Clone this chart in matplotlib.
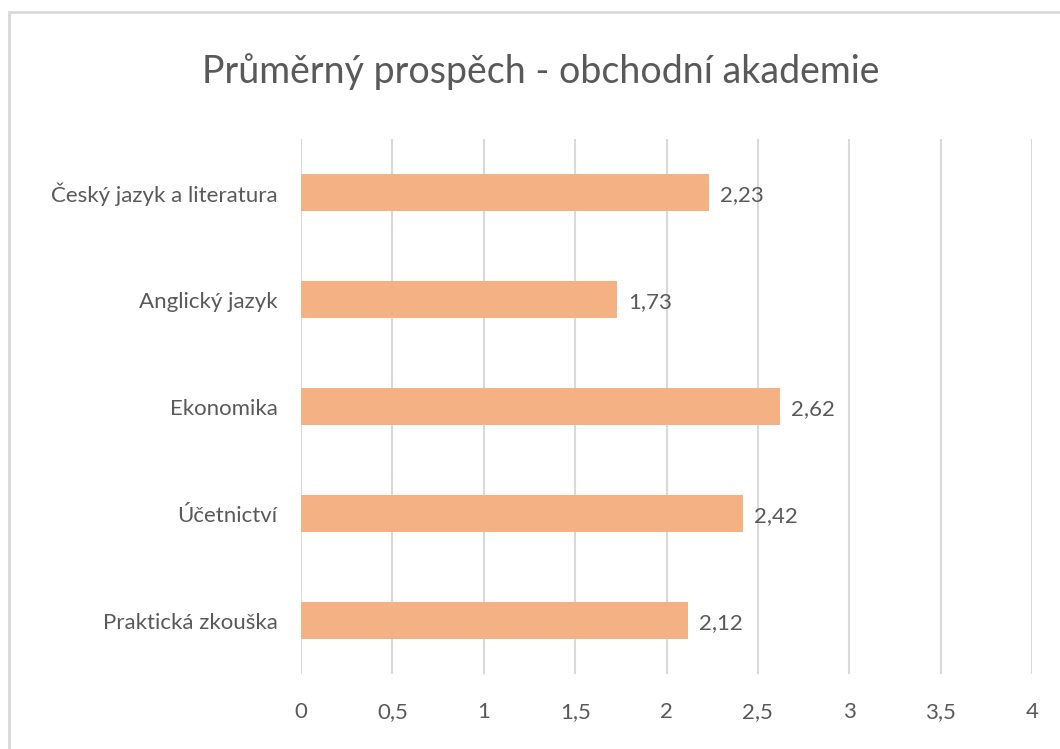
import matplotlib.pyplot as plt
from matplotlib.patches import Rectangle

subjects = ["Český jazyk a literatura", "Anglický jazyk", "Ekonomika", "Účetnictví", "Praktická zkouška"]
grades = [2.23, 1.73, 2.62, 2.42, 2.12]
ticks = [0, 0.5, 1, 1.5, 2, 2.5, 3, 3.5, 4]

text_col = "#595959"
plt.rcParams['font.family'] = ['Lato', 'DejaVu Sans']

fig = plt.figure(figsize=(10.6, 7.49), dpi=100)
ax = fig.add_axes([0.284, 0.1001, 0.6896, 0.7143])

# chart border like an Excel chart area
fig.patches.append(Rectangle((9 / 1060, -0.1), 1.2, 1 - 12 / 749 + 0.1, transform=fig.transFigure,
                             fill=False, edgecolor="#D9D9D9", linewidth=2))

y = list(range(len(subjects)))[::-1]
ax.barh(y, grades, height=0.35, color="#F4B183", zorder=3)
for yi, g in zip(y, grades):
    ax.text(g + 0.06, yi - 0.02, f"{g:.2f}".replace(".", ","), va="center", ha="left",
            fontsize=16, color=text_col)

ax.set_xlim(0, 4)
ax.set_ylim(-0.5, len(subjects) - 0.5)
ax.set_xticks(ticks)
ax.set_xticklabels([f"{t:g}".replace(".", ",") for t in ticks])
ax.set_yticks(y)
ax.set_yticklabels(subjects)
ax.tick_params(length=0, labelsize=16, colors=text_col)
ax.tick_params(axis="x", pad=20)
ax.tick_params(axis="y", pad=17)
ax.grid(axis="x", color="#D9D9D9", linewidth=1.5, zorder=0)
for s in ax.spines.values():
    s.set_visible(False)

fig.text(0.51, 1 - 72 / 749, "Průměrný prospěch - obchodní akademie", ha="center", va="center",
         fontsize=27, color=text_col)

fig.savefig("out.png", dpi=100)
